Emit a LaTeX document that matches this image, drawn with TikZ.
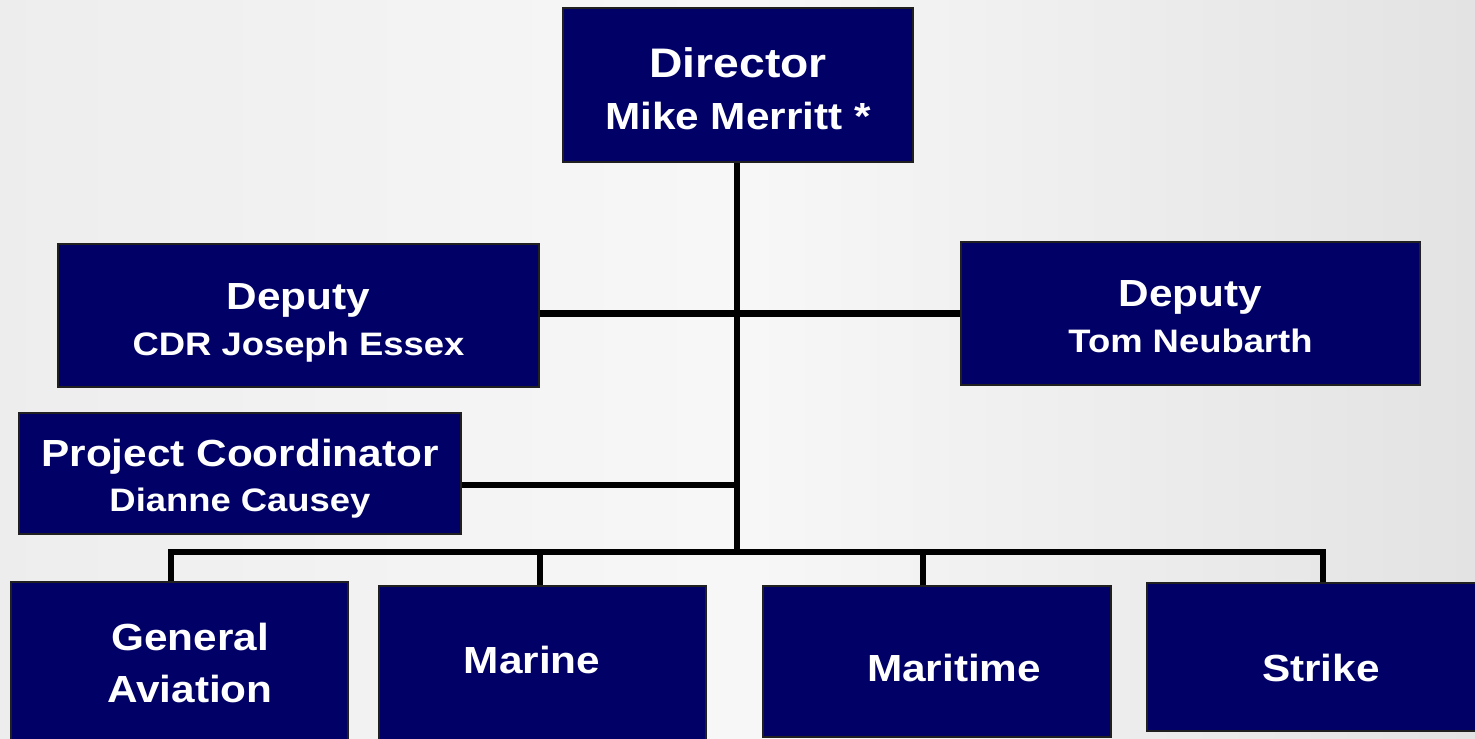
\documentclass[tikz,border=0pt]{standalone}
\usepackage{fontspec}
\newfontfamily\orgfont{Liberation Sans}[FakeStretch=1.12]
\usepackage{tikz}
\usetikzlibrary{calc, positioning}
\definecolor{navy}{HTML}{000066}
\definecolor{boxline}{HTML}{202020}
\newcommand{\subline}[1]{{\fontsize{18.5}{22}\selectfont #1}}

\tikzset{
    unit/.style={draw=boxline, line width=0.9pt, fill=navy},
    caption/.style={text=white, align=center, inner sep=0pt,
        font=\orgfont\bfseries\fontsize{21.5}{26.5}\selectfont},
    link/.style={line width=3.6pt, line join=miter}
}

\begin{document}
\begin{tikzpicture}
    \useasboundingbox (0,0) rectangle (29.5,-14.78);
    \clip (0,0) rectangle (29.5,-14.78);
    \shade[left color=black!7, right color=black!11, middle color=black!3] (0,0) rectangle (29.5,-14.78);

    % top of the chart
    \node[unit, minimum width=7cm, minimum height=3.08cm]     (dir)    at (14.76,-1.70)  {};
    \node[unit, minimum width=9.62cm, minimum height=2.86cm]  (depL)   at (5.97,-6.31)   {};
    \node[unit, minimum width=9.18cm, minimum height=2.86cm]  (depR)   at (23.81,-6.27)  {};
    \node[unit, minimum width=8.84cm, minimum height=2.42cm]  (coord)  at (4.80,-9.47)   {};

    % the four divisions
    \node[unit, minimum width=6.74cm, minimum height=3.16cm]  (genav)  at (3.59,-13.22)  {};
    \node[unit, minimum width=6.54cm, minimum height=3.08cm]  (marine) at (10.85,-13.26) {};
    \node[unit, minimum width=6.96cm, minimum height=3.02cm]  (mtime)  at (18.74,-13.23) {};
    \node[unit, minimum width=6.96cm, minimum height=2.96cm]  (strike) at (26.42,-13.14) {};

    % texts, a little off the middle of their boxes
    \node[caption, font=\orgfont\bfseries\fontsize{23.5}{29.5}\selectfont]
        (dir-t)    at ($(dir)+(0,-0.08)$)      {Director\\{\fontsize{21.5}{29.5}\selectfont Mike Merritt *}};
    \node[caption] (depL-t)   at ($(depL)+(0,-0.15)$)     {Deputy\\\subline{CDR Joseph Essex}};
    \node[caption] (depR-t)   at ($(depR)+(0,-0.06)$)     {Deputy\\\subline{Tom Neubarth}};
    \node[caption, font=\orgfont\bfseries\fontsize{21.5}{25.5}\selectfont]
        (coord-t)  at ($(coord)+(0,-0.10)$)    {Project Coordinator\\\subline{Dianne Causey}};
    \node[caption, font=\orgfont\bfseries\fontsize{21.5}{29.5}\selectfont]
        (genav-t)  at ($(genav)+(0.21,-0.04)$) {General\\Aviation};
    \node[caption] (marine-t) at ($(marine)+(-0.21,0.06)$) {Marine};
    \node[caption] (mtime-t)  at ($(mtime)+(0.34,-0.12)$)  {Maritime};
    \node[caption] (strike-t) at ($(strike)+(0,-0.22)$)    {Strike};

    % joints on the trunk and the bus
    \coordinate (cj) at (14.74,-9.70);
    \coordinate (bus) at (14.74,-11.04);
    \coordinate (b1) at (3.42,-11.04);
    \coordinate (b2) at (10.80,-11.04);
    \coordinate (b3) at (18.46,-11.04);
    \coordinate (b4) at (26.46,-11.04);

    \draw[link] (dir.south -| bus) -- (bus);
    \draw[link] (depL.east |- depR.west) -- (depR.west);
    \draw[link] (cj -| coord.east) -- (cj);
    \draw[link] (b1 |- genav.north) -- (b1) -- (b4) -- (b4 |- strike.north);
    \draw[link] (b2) -- (b2 |- marine.north);
    \draw[link] (b3) -- (b3 |- mtime.north);
\end{tikzpicture}
\end{document}
